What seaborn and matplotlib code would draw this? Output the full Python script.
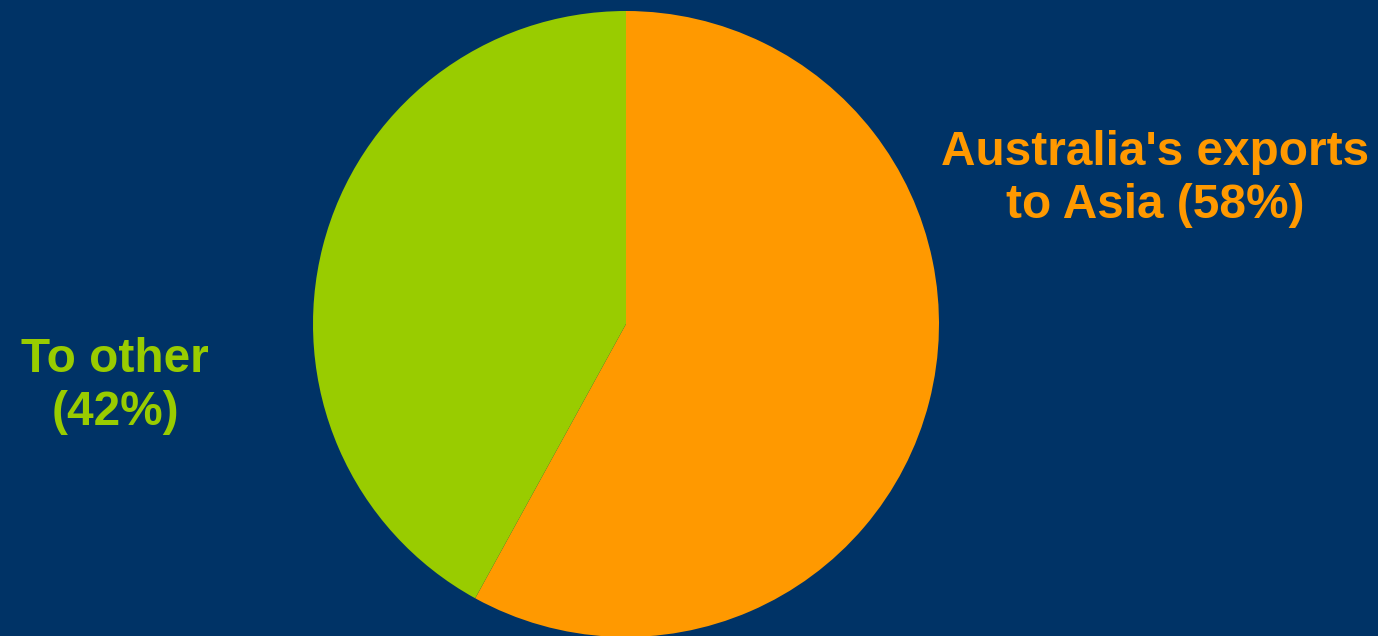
import matplotlib
matplotlib.use("Agg")
import matplotlib.pyplot as plt
import seaborn as sns

# Share of Australia's exports by destination
categories = ["Australia's exports\nto Asia", "To other"]
shares = [58, 42]
colors = ["#FF9900", "#99CC00"]
bg = "#003366"

sns.set_theme(style="white")
plt.rcParams["font.family"] = ["Liberation Sans", "DejaVu Sans"]

W, H = 1378, 636
fig = plt.figure(figsize=(W / 100, H / 100), dpi=100, facecolor=bg)

# Pie axes: centre (626, 324) px from top-left, radius 313 px
cx, cy, r = 626, 324, 313
ax = fig.add_axes([(cx - r) / W, (H - cy - r) / H, 2 * r / W, 2 * r / H])
ax.set_facecolor(bg)
ax.pie(shares, colors=colors, startangle=90, counterclock=False,
       radius=1.0, wedgeprops=dict(linewidth=0))
ax.set_xlim(-1, 1)
ax.set_ylim(-1, 1)
ax.set_aspect("equal")
ax.axis("off")

labels = [f"{categories[0]} ({shares[0]}%)",
          f"{categories[1]}\n({shares[1]}%)"]

fig.text(1155 / W, 1 - 179 / H, labels[0], color=colors[0], fontsize=34.4,
         fontweight="bold", ha="center", va="center", linespacing=1.22)
fig.text(115 / W, 1 - 386 / H, labels[1], color=colors[1], fontsize=34.4,
         fontweight="bold", ha="center", va="center", linespacing=1.22)

fig.savefig("out.png", dpi=100, facecolor=bg)
